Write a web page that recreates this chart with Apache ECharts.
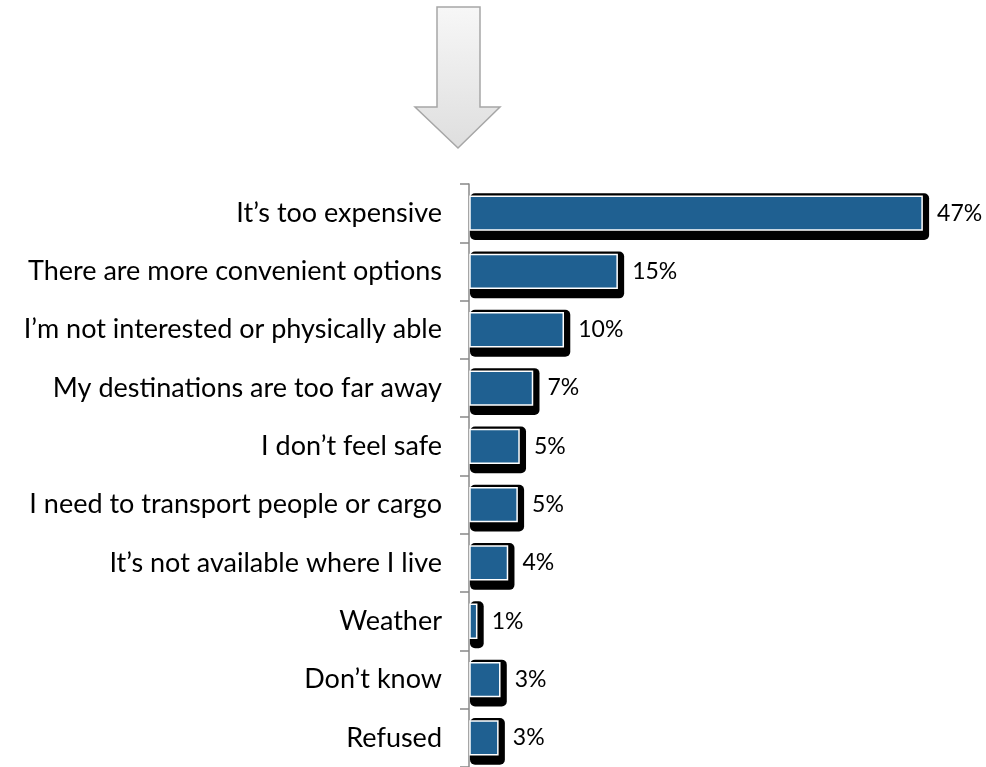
<!DOCTYPE html>
<html>
<head>
<meta charset="utf-8">
<script src="https://cdn.jsdelivr.net/npm/echarts@6/dist/echarts.min.js"></script>
<style>html,body{margin:0;padding:0;background:#fff}#c{width:986px;height:767px}</style>
</head>
<body>
<div id="c"></div>
<script>
const categories = [
  "It\u2019s too expensive",
  "There are more convenient options",
  "I\u2019m not interested or physically able",
  "My destinations are too far away",
  "I don\u2019t feel safe",
  "I need to transport people or cargo",
  "It\u2019s not available where I live",
  "Weather",
  "Don\u2019t know",
  "Refused"
];
const values = [47.1, 15.4, 9.8, 6.6, 5.2, 5.0, 4.0, 0.8, 3.2, 3.0];
const valueLabels = ["47%", "15%", "10%", "7%", "5%", "5%", "4%", "1%", "3%", "3%"];

const FONT = 'Lato';
const chart = echarts.init(document.getElementById('c'), null, {renderer: 'canvas'});
chart.setOption({
  animation: false,
  grid: {left: 469, right: 36, top: 184, bottom: 0, containLabel: false},
  xAxis: {type: 'value', min: 0, max: 50, show: false},
  yAxis: {
    type: 'category', data: categories, inverse: true,
    axisLine: {show: true, lineStyle: {color: '#888888', width: 1.5}},
    axisTick: {show: true, length: 9, lineStyle: {color: '#888888', width: 1.5}},
    axisLabel: {margin: 27, color: '#000', fontFamily: FONT, fontSize: 27}
  },
  graphic: [{
    type: 'polygon', z: 10,
    shape: {points: [[437, 7], [480, 7], [480, 107], [500, 107], [458, 148], [415, 107], [437, 107]]},
    style: {
      fill: new echarts.graphic.LinearGradient(0, 0, 0, 1, [
        {offset: 0, color: '#f7f7f7'}, {offset: 1, color: '#dedede'}
      ]),
      stroke: '#a6a6a6', lineWidth: 1.5
    }
  }],
  series: [{
    type: 'custom',
    encode: {x: 0, y: 1},
    data: values.map((v, i) => [v, i]),
    renderItem: function (params, api) {
      const v = api.value(0), c = api.value(1);
      const start = api.coord([0, c]);
      const end = api.coord([v, c]);
      const band = api.size([0, 1])[1];
      const h = band * 0.58;
      const y0 = end[1] - h / 2;
      const x0 = start[0] + 1;
      const x1 = end[0];
      return {
        type: 'group',
        children: [
          {type: 'rect', shape: {x: x0, y: y0 - 3, width: x1 - x0 + 7, height: h + 13, r: 5}, style: {fill: '#000'}},
          {type: 'rect', shape: {x: x0, y: y0, width: x1 - x0, height: h}, style: {fill: '#1F6091', stroke: '#ffffff', lineWidth: 1.5}},
          {type: 'text', style: {text: valueLabels[params.dataIndex], x: x1 + 15, y: end[1], verticalAlign: 'middle', align: 'left', fill: '#000', font: '23px ' + FONT}}
        ]
      };
    }
  }]
});
</script>
</body>
</html>
